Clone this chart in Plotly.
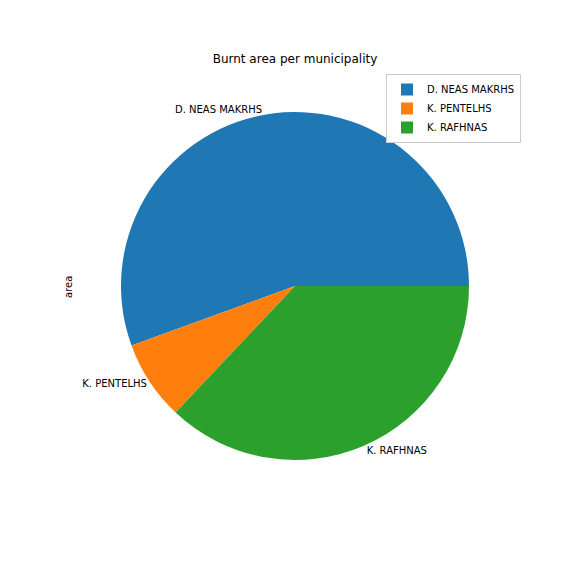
import plotly.graph_objects as go

municipalities = ["D. NEAS MAKRHS", "K. PENTELHS", "K. RAFHNAS"]
area = [1500, 200, 1000]
colors = ["#1f77b4", "#ff7f0e", "#2ca02c"]

# page has an 8px body margin; work in page pixels
W = H = 576
OFF = 8
def px(x):
    return (x - OFF) / W
def py(y):
    return 1 - (y - OFF) / H

# first slice starts at 3 o'clock and runs counterclockwise
rotation = 90 - 360 * area[0] / sum(area)

fig = go.Figure(go.Pie(
    labels=municipalities,
    values=area,
    sort=False,
    direction="counterclockwise",
    rotation=rotation,
    marker=dict(colors=colors, line=dict(width=0)),
    textinfo="label",
    textposition="outside",
    outsidetextfont=dict(color="black", size=10),
    hoverinfo="label+value",
    domain=dict(x=[px(121), px(469)], y=[py(460), py(112)]),
))

fig.update_layout(
    width=W, height=H,
    margin=dict(l=0, r=0, t=0, b=0),
    paper_bgcolor="white",
    font=dict(family="DejaVu Sans", size=10, color="black"),
    title=dict(text="Burnt area per municipality", x=px(295), xanchor="center",
               y=py(59), yanchor="middle", font=dict(size=12)),
    legend=dict(x=px(386), xanchor="left", y=py(74), yanchor="top",
                bordercolor="#cccccc", borderwidth=1, bgcolor="white",
                itemwidth=30, tracegroupgap=0,
                font=dict(size=10)),
    annotations=[dict(text="area", textangle=-90, x=px(68), y=py(287),
                      xref="paper", yref="paper", showarrow=False,
                      xanchor="center", yanchor="middle",
                      font=dict(size=10))],
)

fig.write_html("out.html")
